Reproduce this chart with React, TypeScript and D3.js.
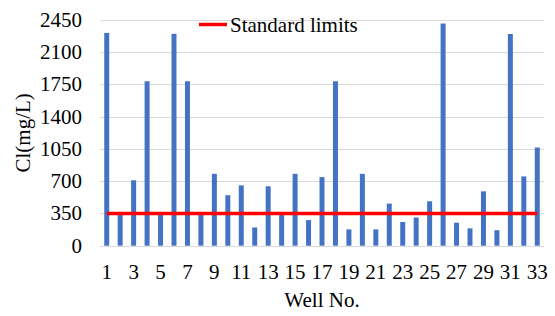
import { useEffect, useRef } from 'react';
import * as d3 from 'd3';

const wells = d3.range(1, 34).map(String);
const chloride = [2310, 350, 710, 1785, 350, 2300, 1785, 350, 780, 548, 655, 198, 645, 348, 780, 278, 745, 1785, 177, 780, 177, 457, 257, 306, 482, 2412, 250, 188, 590, 168, 2298, 752, 1066];
const standardLimit = wells.map(() => 350);
const yTicks = [0, 350, 700, 1050, 1400, 1750, 2100, 2450];
const xTickLabels = wells.filter((w, i) => i % 2 === 0);

function App() {
    const ref = useRef<SVGSVGElement>(null);

    useEffect(() => {
        const width = 555;
        const height = 316;
        const left = 100;
        const right = 544;
        const top = 20;
        const bottom = 245.7;
        const font = 'Liberation Serif, Times New Roman, serif';

        const svg = d3.select(ref.current);
        svg.selectAll('*').remove();
        svg.attr('width', width).attr('height', height);

        const x = d3.scaleBand().domain(wells).range([left, right]).paddingInner(0.63).paddingOuter(0.315);
        const y = d3.scaleLinear().domain([0, 2450]).range([bottom, top]);

        // gridlines
        svg.append('g')
            .selectAll('line')
            .data(yTicks)
            .join('line')
            .attr('x1', left)
            .attr('x2', right)
            .attr('y1', d => Math.round(y(d)) + 0.5)
            .attr('y2', d => Math.round(y(d)) + 0.5)
            .attr('stroke', '#d9d9d9')
            .attr('stroke-width', 1);

        // y tick labels
        svg.append('g')
            .selectAll('text')
            .data(yTicks)
            .join('text')
            .attr('x', 82)
            .attr('y', d => y(d) + 7)
            .attr('text-anchor', 'end')
            .attr('font-family', font)
            .attr('font-size', 21)
            .attr('fill', '#000')
            .text(d => d);

        // bars
        svg.append('g')
            .attr('fill', '#4472C4')
            .selectAll('rect')
            .data(chloride)
            .join('rect')
            .attr('x', (d, i) => x(wells[i]))
            .attr('y', d => y(d))
            .attr('width', x.bandwidth())
            .attr('height', d => y(0) - y(d));

        // standard limit line
        const line = d3.line<number>()
            .x((d, i) => x(wells[i]) + x.bandwidth() / 2)
            .y(d => y(d));
        svg.append('path')
            .datum(standardLimit)
            .attr('d', line)
            .attr('fill', 'none')
            .attr('stroke', '#ff0000')
            .attr('stroke-width', 3.5);

        // x tick labels
        svg.append('g')
            .selectAll('text')
            .data(xTickLabels)
            .join('text')
            .attr('x', d => x(d) + x.bandwidth() / 2)
            .attr('y', 279)
            .attr('text-anchor', 'middle')
            .attr('font-family', font)
            .attr('font-size', 21)
            .attr('fill', '#000')
            .text(d => d);

        // axis titles
        svg.append('text')
            .attr('x', (left + right) / 2)
            .attr('y', 307)
            .attr('text-anchor', 'middle')
            .attr('font-family', font)
            .attr('font-size', 21)
            .text('Well No.');

        svg.append('text')
            .attr('transform', `translate(30, ${(top + bottom) / 2}) rotate(-90)`)
            .attr('text-anchor', 'middle')
            .attr('font-family', font)
            .attr('font-size', 21)
            .text('Cl(mg/L)');

        // legend
        svg.append('line')
            .attr('x1', 199)
            .attr('x2', 227)
            .attr('y1', 24.5)
            .attr('y2', 24.5)
            .attr('stroke', '#ff0000')
            .attr('stroke-width', 3.5);
        svg.append('text')
            .attr('x', 230)
            .attr('y', 31.5)
            .attr('font-family', font)
            .attr('font-size', 21)
            .text('Standard limits');
    });

    return (
        <div style={{ position: 'absolute', left: 0, top: 0 }}>
            <svg ref={ref} style={{ display: 'block' }}></svg>
        </div>
    );
}

export default App;
